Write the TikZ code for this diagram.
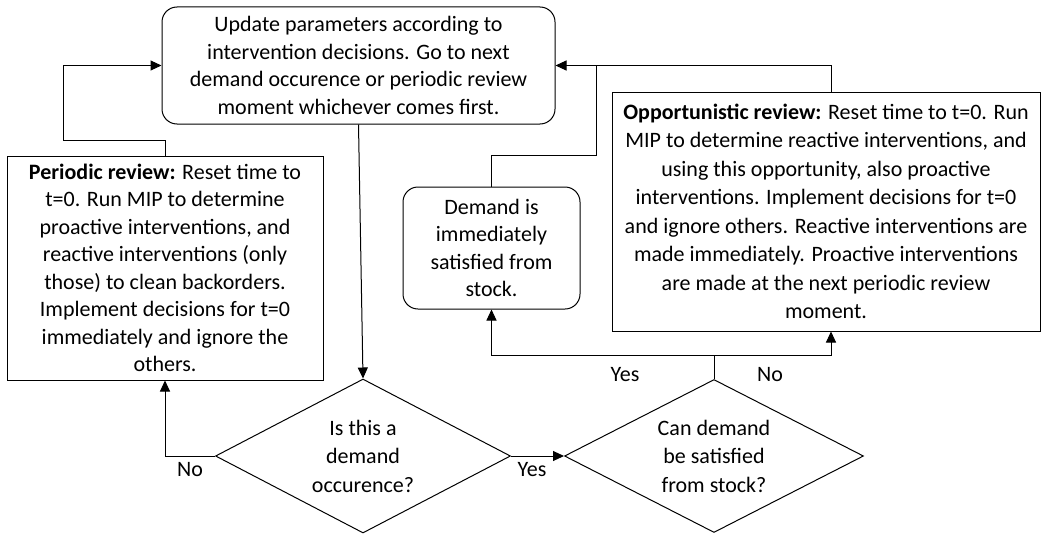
\documentclass[tikz,border=0pt]{standalone}
\usepackage{fontspec}
\setmainfont{Carlito}
\usetikzlibrary{shapes.geometric,arrows.meta}
\tikzset{
  txt/.style={font=\fontsize{22}{27.5}\selectfont, align=center, text=black},
  rbox/.style={draw, line width=1pt, rounded corners=15pt, inner sep=0pt, txt},
  sbox/.style={draw, line width=1pt, inner sep=0pt, txt},
  diam/.style={draw, line width=1pt, shape=diamond, inner sep=0pt},
  arr/.style={line width=1pt, -{Triangle[length=11pt,width=10pt]}},
  conn/.style={line width=1pt},
  lbl/.style={txt, inner sep=0pt}
}
\begin{document}
\begin{tikzpicture}[x=1pt,y=-1pt]
\useasboundingbox (0,0) rectangle (1043,535);
\fill[white] (0,0) rectangle (1043,535);

\node[rbox, minimum width=393pt, minimum height=117pt] (top) at (358.5,65.5)
  {Update parameters according to\\intervention decisions. Go to next\\demand occurence or periodic review\\moment whichever comes first.};

\node[sbox, minimum width=316pt, minimum height=224pt] (per) at (165,268)
  {\textbf{Periodic review:} Reset time to\\t=0. Run MIP to determine\\proactive interventions, and\\reactive interventions (only\\those) to clean backorders.\\Implement decisions for t=0\\immediately and ignore the\\others.};

\node[rbox, minimum width=177pt, minimum height=122pt] (dem) at (491.5,248)
  {Demand is\\immediately\\satisfied from\\stock.};

\node[sbox, minimum width=428pt, minimum height=239pt, font=\fontsize{22}{28.5}\selectfont] (opp) at (826,211.5)
  {\textbf{Opportunistic review:} Reset time to t=0. Run\\MIP to determine reactive interventions, and\\using this opportunity, also proactive\\interventions. Implement decisions for t=0\\and ignore others. Reactive interventions are\\made immediately. Proactive interventions\\are made at the next periodic review\\moment.};

\node[diam, minimum width=295pt, minimum height=154pt,
  label={[txt, font=\fontsize{22}{28.5}\selectfont]center:Is this a\\demand\\occurence?}] (d1) at (363,456) {};

\node[diam, minimum width=299pt, minimum height=153pt,
  label={[txt, font=\fontsize{22}{28.5}\selectfont]center:Can demand\\be satisfied\\from stock?}] (d2) at (714,456) {};

\coordinate (j) at (714,355);

% connectors
\draw[arr] (per.north) |- (63,140) |- (top.west);
\draw[arr] (top.south) -- (d1.north);
\draw[arr] (d1.west) -| (per.south);
\draw[arr] (d1.east) -- (d2.west);
\draw[conn] (d2.north) -- (j);
\draw[arr] (j) -| (dem.south);
\draw[arr] (j) -| ([xshift=5pt]opp.south);
\draw[arr] ([xshift=5pt]opp.north) |- (top.east);
\draw[conn] (dem.north) |- (596,155) -- (596,65.5);

% labels
\node[lbl] (no1) at (190,470) {No};
\node[lbl] (yes1) at (532,470) {Yes};
\node[lbl] (yes2) at (625,375) {Yes};
\node[lbl] (no2) at (770,375) {No};
\end{tikzpicture}
\end{document}
